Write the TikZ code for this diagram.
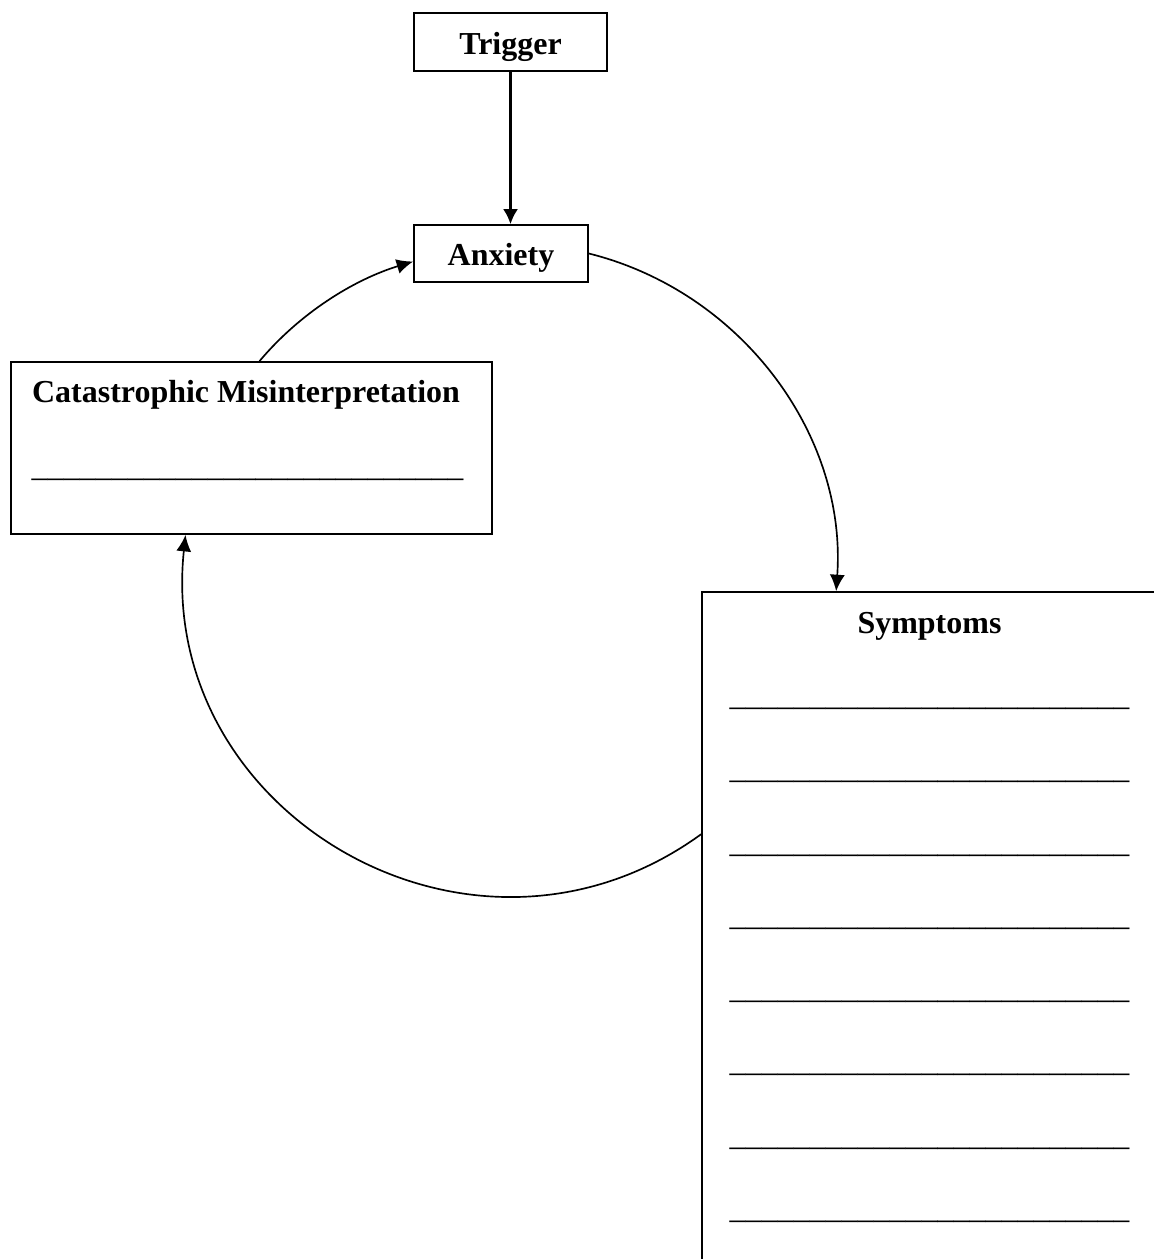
\documentclass[tikz,border=0pt]{standalone}
\usepackage{fontspec}
\setmainfont{Liberation Serif}
\usepackage{tikz}
\usetikzlibrary{positioning,calc,arrows.meta}

\begin{document}
\begin{tikzpicture}[x=0.02cm,y=0.02cm,
    box/.style={draw,line width=1pt,inner sep=0pt},
    lbl/.style={font=\fontsize{18.2}{22}\selectfont\bfseries},
    tag/.style={box,lbl,text height=17pt,text depth=3.3pt},
    blank/.style={font=\fontsize{18.2}{22}\selectfont,anchor=base,inner sep=0pt},
    link/.style={line width=0.95pt,-{Latex[length=0.33cm,width=0.3cm]}}]
    \useasboundingbox (0,0) rectangle (1154,-1259);
    \clip (0,0) rectangle (1154,-1259);

    % Boxes
    \node[tag,minimum width=3.86cm,minimum height=1.16cm] (trig) at (510.5,-42) {Trigger};
    \node[tag,minimum width=3.48cm,minimum height=1.14cm] (anx) at (501,-253.5) {Anxiety};
    \node[box,minimum width=9.62cm,minimum height=3.44cm] (cat) at (251.5,-448) {};
    \node[box,minimum width=9.28cm,minimum height=13.6cm] (sym) at (934,-932) {};

    % Box texts
    \node[lbl,anchor=base,inner sep=0pt] (cattitle) at (246,-402) {Catastrophic Misinterpretation};
    \node[blank] (catline) at (247.5,-476) {\_\_\_\_\_\_\_\_\_\_\_\_\_\_\_\_\_\_\_\_\_\_\_\_\_\_\_};
    \node[lbl,anchor=base,inner sep=0pt] (symtitle) at (929.5,-633) {Symptoms};
    \node[blank] (symline1) at (929.5,-705) {\_\_\_\_\_\_\_\_\_\_\_\_\_\_\_\_\_\_\_\_\_\_\_\_\_};
    \node[blank] (symline2) at (929.5,-778) {\_\_\_\_\_\_\_\_\_\_\_\_\_\_\_\_\_\_\_\_\_\_\_\_\_};
    \node[blank] (symline3) at (929.5,-852) {\_\_\_\_\_\_\_\_\_\_\_\_\_\_\_\_\_\_\_\_\_\_\_\_\_};
    \node[blank] (symline4) at (929.5,-925) {\_\_\_\_\_\_\_\_\_\_\_\_\_\_\_\_\_\_\_\_\_\_\_\_\_};
    \node[blank] (symline5) at (929.5,-998) {\_\_\_\_\_\_\_\_\_\_\_\_\_\_\_\_\_\_\_\_\_\_\_\_\_};
    \node[blank] (symline6) at (929.5,-1071) {\_\_\_\_\_\_\_\_\_\_\_\_\_\_\_\_\_\_\_\_\_\_\_\_\_};
    \node[blank] (symline7) at (929.5,-1145) {\_\_\_\_\_\_\_\_\_\_\_\_\_\_\_\_\_\_\_\_\_\_\_\_\_};
    \node[blank] (symline8) at (929.5,-1218) {\_\_\_\_\_\_\_\_\_\_\_\_\_\_\_\_\_\_\_\_\_\_\_\_\_};

    % Trigger feeds the cycle
    \draw[link,line width=1.3pt,-{Latex[length=0.3cm,width=0.3cm]}] (trig.south) -- (trig.south |- anx.north);

    % Vicious circle
    \draw[link] (anx.east) to[out=-14,in=86,looseness=0.96] ([xshift=2.7cm]sym.north west);
    \draw[link] ($(sym.north west)+(0,-243)$) to[out=-144,in=-96,looseness=1.21] ([xshift=-1.32cm]cat.south);
    \draw[link] ([xshift=0.16cm]cat.north) to[out=50,in=197,looseness=0.87] ([yshift=-0.16cm]anx.west);
\end{tikzpicture}
\end{document}
